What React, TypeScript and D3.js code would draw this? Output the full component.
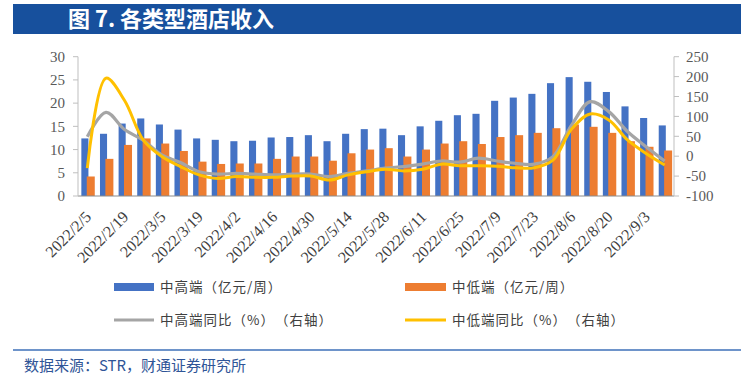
import React from 'react';
import * as d3 from 'd3';

// weekly dates 2022/2/5 .. 2022/9/10
const weeks = [
  '2022/2/5','2022/2/12','2022/2/19','2022/2/26','2022/3/5','2022/3/12','2022/3/19','2022/3/26',
  '2022/4/2','2022/4/9','2022/4/16','2022/4/23','2022/4/30','2022/5/7','2022/5/14','2022/5/21',
  '2022/5/28','2022/6/4','2022/6/11','2022/6/18','2022/6/25','2022/7/2','2022/7/9','2022/7/16',
  '2022/7/23','2022/7/30','2022/8/6','2022/8/13','2022/8/20','2022/8/27','2022/9/3','2022/9/10'
];
const highEnd = [12.4,13.4,15.6,16.7,15.4,14.3,12.4,12.1,11.8,11.9,12.6,12.7,13.1,11.8,13.4,14.4,
  14.5,13.1,15.0,16.2,17.4,17.7,20.5,21.2,22.0,24.3,25.6,24.6,22.4,19.3,16.8,15.2];
const lowEnd = [4.2,8.0,11.0,12.4,11.3,9.7,7.4,6.9,7.0,7.0,8.0,8.5,8.5,7.6,9.2,10.0,
  10.3,8.5,10.0,11.3,11.8,11.2,12.7,13.1,13.6,14.6,15.4,14.9,13.6,11.8,10.6,9.8];
const highYoy = [49,110,67,40,3,-16,-39,-45,-43,-45,-47,-45,-45,-51,-43,-37,
  -30,-26,-20,-12,-15,-5,-12,-18,-20,-1,78,137,112,62,24,-12];
const lowYoy = [-30,196,140,41,-1,-26,-47,-56,-51,-53,-53,-50,-50,-60,-47,-39,
  -33,-37,-33,-20,-24,-24,-25,-29,-29,-10,68,106,91,41,7,-22];
const leftTicks = [0,5,10,15,20,25,30];
const rightTicks = [-100,-50,0,50,100,150,200,250];

const W = 750, H = 386;
const left = 78, right = 674, top = 56.7, bottom = 196;
const cjk = '"Noto Sans CJK SC", "Noto Sans", sans-serif';
const serif = '"Liberation Serif", "DejaVu Serif", serif';
const noTrim: any = { textSpacingTrim: 'space-all' };

export default function App() {
  const x = d3.scaleBand().domain(weeks).range([left, right]).padding(0);
  const bw = x.bandwidth();
  const yL = d3.scaleLinear().domain([0, 30]).range([bottom, top]);
  const yR = d3.scaleLinear().domain([-100, 250]).range([bottom, top]);
  const cx = (d: string) => (x(d) as number) + bw / 2;

  const line = d3.line<number>()
    .x((_, i) => cx(weeks[i]))
    .y(v => yR(v))
    .curve(d3.curveCatmullRom.alpha(0.5));

  return (
    <svg width={W} height={H} style={{ position: 'absolute', left: 0, top: 0, background: '#fff' }}>
      {/* title bar */}
      <rect x={13} y={4} width={728} height={30} fill="#17509d" />
      <text x={68} y={27} fill="#fff" fontFamily={cjk} fontWeight="bold" fontSize={22}>图 7. 各类型酒店收入</text>

      {/* bars */}
      {weeks.map((w, i) => (
        <g key={w}>
          <rect x={cx(w) - 0.32 * bw} y={yL(highEnd[i])} width={0.38 * bw}
            height={bottom - yL(highEnd[i])} fill="#4472c4" />
          <rect x={cx(w) - 0.03 * bw} y={yL(lowEnd[i])} width={0.43 * bw}
            height={bottom - yL(lowEnd[i])} fill="#ed7d31" />
        </g>
      ))}

      {/* lines */}
      <path d={line(highYoy) as string} fill="none" stroke="#a5a5a5" strokeWidth={3.2} />
      <path d={line(lowYoy) as string} fill="none" stroke="#ffc000" strokeWidth={3} />

      {/* axes */}
      <line x1={left} x2={right} y1={bottom} y2={bottom} stroke="#8c8c8c" strokeWidth={1.2} />
      <line x1={left} x2={left} y1={top} y2={bottom} stroke="#bfbfbf" strokeWidth={1} />
      <line x1={right} x2={right} y1={top} y2={bottom} stroke="#bfbfbf" strokeWidth={1} />
      {leftTicks.map(t => (
        <g key={'l' + t}>
          <line x1={left - 5} x2={left} y1={yL(t)} y2={yL(t)} stroke="#bfbfbf" />
          <text x={65} y={yL(t)} dy="0.35em" textAnchor="end" fontFamily={serif} fontSize={15} fill="#595959">{t}</text>
        </g>
      ))}
      {rightTicks.map(t => (
        <g key={'r' + t}>
          <line x1={right} x2={right + 5} y1={yR(t)} y2={yR(t)} stroke="#bfbfbf" />
          <text x={686} y={yR(t)} dy="0.35em" textAnchor="start" fontFamily={serif} fontSize={15} fill="#595959">{t}</text>
        </g>
      ))}
      {weeks.filter((_, i) => i % 2 === 0).map(w => (
        <text key={'x' + w} transform={`translate(${cx(w) + 1},${bottom + 18}) rotate(-45)`}
          textAnchor="end" dy="0.35em" fontFamily={serif} fontSize={16} fill="#404040">{w}</text>
      ))}

      {/* legend */}
      <g fontFamily={cjk} fontSize={13.5} letterSpacing={1} fill="#404040" style={noTrim}>
        <rect x={114} y={283} width={40} height={8} fill="#4472c4" />
        <text x={160} y={287} dy="0.35em">中高端（亿元/周）</text>
        <rect x={405} y={283} width={41} height={8} fill="#ed7d31" />
        <text x={452} y={287} dy="0.35em">中低端（亿元/周）</text>
        <line x1={114} x2={154} y1={320} y2={320} stroke="#a5a5a5" strokeWidth={3} />
        <text x={160} y={320} dy="0.35em">中高端同比（%）（右轴）</text>
        <line x1={405} x2={446} y1={320} y2={320} stroke="#ffc000" strokeWidth={3} />
        <text x={452} y={320} dy="0.35em">中低端同比（%）（右轴）</text>
      </g>

      {/* footer */}
      <line x1={13} x2={741} y1={350} y2={350} stroke="#3e70b8" strokeWidth={1.5} />
      <text x={24} y={366} dy="0.35em" fontFamily={cjk} fontSize={15} fill="#2f5597" style={noTrim}>数据来源：STR，财通证券研究所</text>
    </svg>
  );
}
